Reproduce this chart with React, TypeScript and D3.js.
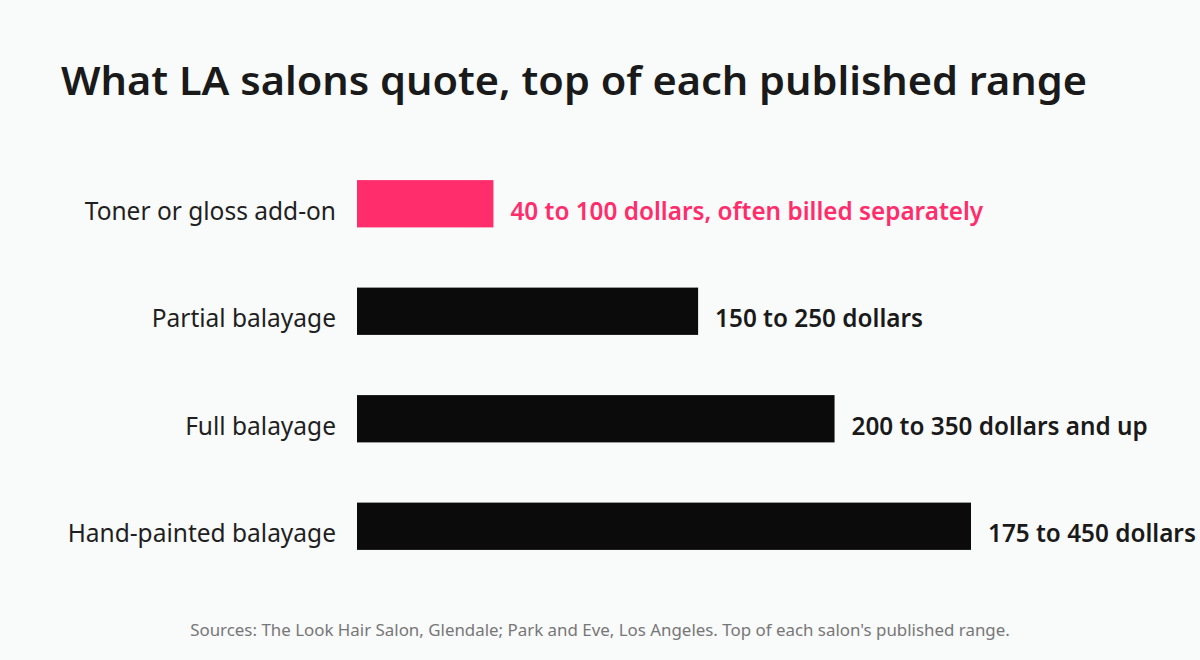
import * as d3 from "d3"

const categories = [
  "Toner or gloss add-on",
  "Partial balayage",
  "Full balayage",
  "Hand-painted balayage",
]
const topValues = [100, 250, 350, 450]
const valueLabels = [
  "40 to 100 dollars, often billed separately",
  "150 to 250 dollars",
  "200 to 350 dollars and up",
  "175 to 450 dollars",
]
const highlighted = ["Toner or gloss add-on"]

const title = "What LA salons quote, top of each published range"
const source =
  "Sources: The Look Hair Salon, Glendale; Park and Eve, Los Angeles. Top of each salon's published range."

const width = 1200
const height = 660
const font = "'Noto Sans', 'Open Sans', sans-serif"
const pink = "#ff2d6b"
const ink = "#0b0b0b"

export default function App() {
  const x = d3.scaleLinear().domain([0, 450]).range([357, 971])
  const y = d3.scaleBand().domain(categories).range([150, 580]).paddingInner(0.56).paddingOuter(0.28)

  return (
    <svg
      width={width}
      height={height}
      style={{position: "absolute", left: 0, top: 0, background: "#f9fafa"}}
      fontFamily={font}
    >
      <rect width={width} height={height} fill="#f9fafa" />
      <text x={61} y={95} fontSize={40} fontWeight={600} fill="#1a1a1a" textLength={1026} lengthAdjust="spacingAndGlyphs">
        {title}
      </text>
      {categories.map((c, i) => {
        const hot = highlighted.includes(c)
        const yc = y(c)! + y.bandwidth() / 2
        return (
          <g key={c}>
            <text x={336} y={yc + 16} textAnchor="end" fontSize={24.5} fill="#1f1f1f">
              {c}
            </text>
            <rect
              x={x(0)}
              y={y(c)}
              width={x(topValues[i]) - x(0)}
              height={y.bandwidth()}
              fill={hot ? pink : ink}
            />
            <text
              x={x(topValues[i]) + 17}
              y={yc + 16}
              fontSize={24.3}
              fontWeight={600}
              fill={hot ? pink : "#1a1a1a"}
            >
              {valueLabels[i]}
            </text>
          </g>
        )
      })}
      <text x={600} y={636} textAnchor="middle" fontSize={16.9} fill="#777">
        {source}
      </text>
    </svg>
  )
}
